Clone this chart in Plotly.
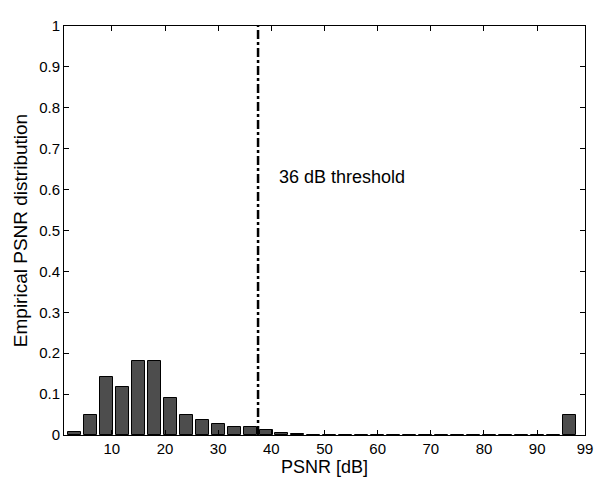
import plotly.graph_objects as go

bin_centers = [3*k for k in range(1, 33)]  # 3..96 dB
freq = [0.008, 0.050, 0.1415, 0.117, 0.1815, 0.180, 0.090, 0.048, 0.036, 0.027,
        0.0185, 0.0185, 0.012, 0.006, 0.003, 0.0012, 0.0005, 0.0012,
        0, 0, 0, 0, 0, 0, 0, 0, 0, 0, 0, 0, 0, 0.050]
threshold_x = 37.5
x_ticks = [10, 20, 30, 40, 50, 60, 70, 80, 90, 99]
y_ticks = [0, 0.1, 0.2, 0.3, 0.4, 0.5, 0.6, 0.7, 0.8, 0.9, 1]
y_tick_labels = ["0", "0.1", "0.2", "0.3", "0.4", "0.5", "0.6", "0.7", "0.8", "0.9", "1"]

fig = go.Figure()
fig.add_trace(go.Bar(x=bin_centers, y=freq, width=2.45,
                     marker=dict(color="#4d4d4d", line=dict(color="black", width=1)),
                     showlegend=False))
fig.add_trace(go.Scatter(x=[threshold_x, threshold_x], y=[0, 1], mode="lines",
                         line=dict(color="black", width=2.5, dash="dashdot"),
                         showlegend=False))
fig.add_annotation(x=41, y=0.632, text="36 dB threshold", showarrow=False,
                   xanchor="left", yanchor="middle",
                   font=dict(size=18, color="black"))

axis_common = dict(showline=True, linecolor="black", linewidth=1, mirror="ticks",
                   ticks="inside", ticklen=5, tickcolor="black", showgrid=False,
                   zeroline=False, tickfont=dict(size=15, color="black"))
fig.update_xaxes(range=[1, 99], tickvals=x_ticks, ticktext=[str(v) for v in x_ticks],
                 title=dict(text="PSNR [dB]", font=dict(size=18, color="black"), standoff=2),
                 **axis_common)
fig.update_yaxes(range=[0, 1], tickvals=y_ticks, ticktext=y_tick_labels,
                 title=dict(text="Empirical PSNR distribution", font=dict(size=19, color="black"), standoff=6),
                 **axis_common)
fig.update_layout(width=594, height=473, plot_bgcolor="white", paper_bgcolor="white",
                  margin=dict(l=56, r=10, t=9, b=45),
                  font=dict(family="Liberation Sans, Arial, sans-serif", color="black"),
                  bargap=0)
fig.write_html("out.html")
